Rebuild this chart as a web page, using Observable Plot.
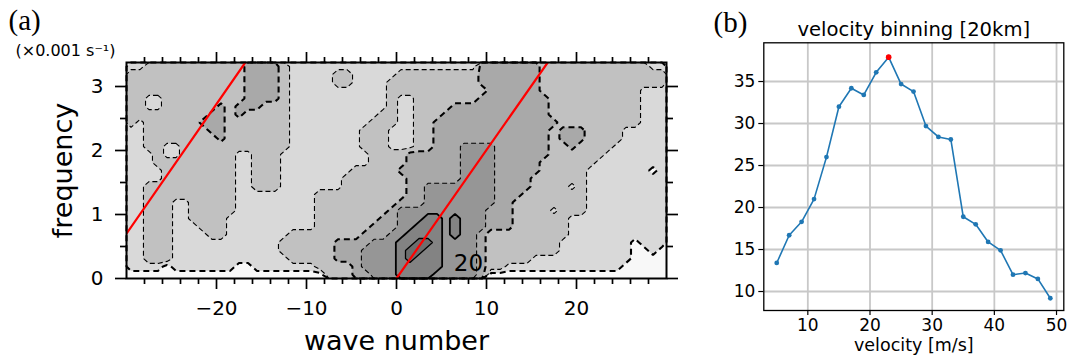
<!DOCTYPE html>
<html>
<head>
<meta charset="utf-8">
<script src="https://cdn.jsdelivr.net/npm/d3@7"></script>
<script src="https://cdn.jsdelivr.net/npm/@observablehq/plot@0.6"></script>
<style>
html, body { margin: 0; padding: 0; background: #fff; }
#wrap { position: relative; width: 1069px; height: 358px; overflow: hidden; background: #fff; }
#pa { position: absolute; left: 0; top: 0; }
#pb { position: absolute; left: 700px; top: 0; }
</style>
</head>
<body>
<div id="wrap"><div id="pa"></div><div id="pb"></div></div>
<script>
// ---------------- Panel (a): wave number / frequency spectrum ----------------
// Shade level read per grid cell (run-length: count + code), top row first.
// Grid: 60 columns (wave number -30..30, step 1), 27 rows (frequency 3.375..0, step 0.125)
const shadeRows = [
  "2L 11M 4D 1M 21L 7D 12M 2L",
  "13M 4D 1M 5L 2M 5L 9M 7D 14M",
  "13M 4D 1M 5L 2M 4L 10M 7D 14M",
  "13M 4D 1M 11L 11M 6D 11M 3L",
  "2M 2L 9M 4D 1M 11L 1M 2L 7M 8D 10M 3L",
  "2M 2L 6M 1D 1M 3D 3M 11L 1M 2L 4M 11D 10M 3L",
  "9M 2D 1M 1D 5M 10L 2M 2L 3M 12D 10M 3L",
  "1M 1L 6M 3D 7M 9L 3M 2L 2M 14D 9M 3L",
  "2L 7M 2D 7M 8L 3M 3L 2M 13D 1M 3D 4M 5L",
  "2L 8M 1D 7M 8L 3M 3L 2M 13D 1M 3D 4M 5L",
  "2L 2M 2L 12M 8L 3M 3L 2M 3D 4E 6D 2M 1D 4M 6L",
  "3L 1M 2L 6M 2L 3M 10L 4M 6D 4E 6D 6M 7L",
  "3L 9M 2L 3M 10L 4M 6D 4E 5D 6M 8L",
  "4L 8M 2L 3M 8L 5M 7D 4E 5D 5M 7L 1W 1L",
  "4L 8M 2L 3M 7L 7M 6D 4E 4D 6M 9L",
  "2L 10M 2L 3M 7L 7M 2D 8E 4D 4M 1L 1M 9L",
  "2L 10M 9L 10M 2D 8E 3D 7M 9L",
  "2L 3M 2L 5M 9L 9M 3D 8E 2D 8M 9L",
  "2L 3M 2L 5M 9L 8M 1D 10E 3D 4M 1L 3M 9L",
  "2L 3M 2L 4M 10L 7M 2D 3E 2F 1E 1F 3E 3D 6M 11L",
  "2L 3M 3L 3M 10L 6M 3D 2E 3F 1E 1F 3E 3D 6M 11L",
  "2L 3M 4L 2M 7L 8M 3D 2E 4F 1E 1F 2E 1D 9M 11L",
  "2L 3M 12L 6M 4D 3E 2F 2G 1F 4E 1D 8M 8L 1W 3L",
  "2L 3M 12L 6M 3D 4E 1F 2G 2F 4E 1D 8M 8L 2W 1L 1W",
  "2L 3M 13L 5M 3D 4E 1F 1G 3F 4E 1D 5M 11L 4W",
  "4L 1W 7L 2W 7L 4M 1D 4E 5F 4E 1D 2M 13L 5W",
  "22W 3M 2D 3E 4F 5E 1D 20W"
];
const shadeCodes  = ["W", "L", "M", "D", "E", "F", "G"];
const shadeValues = [1.5, 3.75, 7, 12, 17, 24, 36];
const gridCols = 60;
const gridRows = 27;

const contourLevels     = [2.5, 5, 10, 15, 20, 30];
const levelFills        = ["#d9d9d9", "#c1c1c1", "#a9a9a9", "#969696", "#838383", "#6d6d6d"];
const levelStrokeWidths = [2.1, 1.1, 2.1, 1.1, 1.8, 1.3];
const levelDashes       = ["6,4", "5,3", "6,4", "5,3", null, null];
const lowestFill = "#f8f8f8";

const waveRange = [-30, 30];
const freqRange = [0, 3.375];

const redLineA_k = [0, 16.8];
const redLineA_f = [0, 3.375];
const redLineB_k = [-30, -16.8];
const redLineB_f = [0.70, 3.375];

const contourLabelK = [8.0];
const contourLabelF = [0.24];
const contourLabelText = ["20"];

const waveMajorTicks = [-20, -10, 0, 10, 20];
const waveMinorTicks = [-28, -26, -24, -22, -18, -16, -14, -12, -8, -6, -4, -2, 2, 4, 6, 8, 12, 14, 16, 18, 22, 24, 26, 28];
const freqMajorTicks = [0, 1, 2, 3];
const freqMinorTicks = [0.5, 1.5, 2.5];

// ---------------- Panel (b): velocity binning ----------------
const velocityBins = [5, 7, 9, 11, 13, 15, 17, 19, 21, 23, 25, 27, 29, 31, 33, 35, 37, 39, 41, 43, 45, 47, 49];
const binCounts    = [13.4, 16.7, 18.3, 21.0, 26.0, 32.0, 34.2, 33.4, 36.1, 37.9, 34.7, 33.8, 29.7, 28.4, 28.1, 18.9, 18.0, 15.9, 14.9, 12.0, 12.2, 11.5, 9.2];
const velocityTicks = [10, 20, 30, 40, 50];
const countTicks    = [10, 15, 20, 25, 30, 35];

// ---------------- build panel (a) ----------------
function decodeRow(s) {
  const out = [];
  for (const tok of s.trim().split(/\s+/)) {
    const n = +tok.slice(0, -1), c = tok.slice(-1);
    const v = shadeValues[shadeCodes.indexOf(c)];
    for (let i = 0; i < n; i++) out.push(v);
  }
  return out;
}
// row 0 of the grid sits at y1 (frequency 0), so bottom row first
const gridValues = shadeRows.slice().reverse().flatMap(decodeRow);

const minus = d => (d < 0 ? "\u2212" + Math.abs(d) : String(d));
const plain = d => String(d);
const blank = () => "";

const gridOpts = {
  width: gridCols, height: gridRows,
  x1: waveRange[0], x2: waveRange[1], y1: freqRange[0], y2: freqRange[1],
  value: Plot.identity
};

const fillMarks = contourLevels.map((t, i) =>
  Plot.contour(gridValues, {...gridOpts, thresholds: [t], fill: levelFills[i], stroke: "none"}));
const lineMarks = contourLevels.map((t, i) => {
  const o = {...gridOpts, thresholds: [t], fill: "none", stroke: "black", strokeWidth: levelStrokeWidths[i]};
  if (levelDashes[i]) o.strokeDasharray = levelDashes[i];
  return Plot.contour(gridValues, o);
});

const redA = redLineA_k.map((k, i) => [k, redLineA_f[i]]);
const redB = redLineB_k.map((k, i) => [k, redLineB_f[i]]);
const labels20 = contourLabelK.map((k, i) => ({k, f: contourLabelF[i], t: contourLabelText[i]}));

const tickStyle = {stroke: "black", strokeWidth: 1.7, label: null};
const txt = {lineAnchor: "middle", fill: "black"};

const plotA = Plot.plot({
  width: 696, height: 358,
  marginLeft: 126, marginRight: 30, marginTop: 62, marginBottom: 80,
  x: {domain: waveRange},
  y: {domain: freqRange},
  style: {fontFamily: "DejaVu Sans", fontSize: "20px", color: "black", background: "transparent", overflow: "visible"},
  marks: [
    Plot.frame({fill: lowestFill, stroke: "none"}),
    ...fillMarks,
    ...lineMarks,
    Plot.line(redA, {stroke: "#ff0000", strokeWidth: 2.2, clip: true}),
    Plot.line(redB, {stroke: "#ff0000", strokeWidth: 2.2, clip: true}),
    Plot.text(labels20, {x: "k", y: "f", text: "t", fontSize: 23, fill: "black"}),
    Plot.frame({stroke: "black", strokeWidth: 2}),
    Plot.axisX(waveMajorTicks, {...tickStyle, anchor: "bottom", tickSize: 11, tickPadding: 11, tickFormat: minus, fontSize: 20}),
    Plot.axisX(waveMinorTicks, {...tickStyle, anchor: "bottom", tickSize: 6, tickFormat: blank}),
    Plot.axisX(waveMajorTicks, {...tickStyle, anchor: "top", tickSize: 11, tickFormat: blank}),
    Plot.axisX(waveMinorTicks, {...tickStyle, anchor: "top", tickSize: 6, tickFormat: blank}),
    Plot.axisY(freqMajorTicks, {...tickStyle, anchor: "left", tickSize: 11, tickPadding: 12, tickFormat: plain, fontSize: 20}),
    Plot.axisY(freqMinorTicks, {...tickStyle, anchor: "left", tickSize: 6, tickFormat: blank}),
    Plot.axisY(freqMajorTicks, {...tickStyle, anchor: "right", tickSize: 11, tickFormat: blank}),
    Plot.axisY(freqMinorTicks, {...tickStyle, anchor: "right", tickSize: 6, tickFormat: blank}),
    Plot.text(["frequency"], {...txt, frameAnchor: "left", textAnchor: "middle", dx: -63, rotate: -90, fontSize: 27}),
    Plot.text(["wave number"], {...txt, frameAnchor: "bottom", textAnchor: "middle", dy: 63, fontSize: 27}),
    Plot.text(["(\u00d70.001 s\u207b\u00b9)"], {...txt, frameAnchor: "top-left", textAnchor: "start", dx: -111, dy: -12, fontSize: 16}),
    Plot.text(["(a)"], {...txt, frameAnchor: "top-left", textAnchor: "start", dx: -118, dy: -41.6, fontSize: 29, fontFamily: "Liberation Serif"})
  ]
});
document.getElementById("pa").appendChild(plotA);

// ---------------- build panel (b) ----------------
const series = velocityBins.map((v, i) => ({v, c: binCounts[i]}));
const peak = [series[d3.maxIndex(series, d => d.c)]];

const plotB = Plot.plot({
  width: 369, height: 358,
  marginLeft: 63.3, marginRight: 5.7, marginTop: 42.3, marginBottom: 48,
  x: {domain: [2.92, 51.17]},
  y: {domain: [7.74, 39.61]},
  style: {fontFamily: "DejaVu Sans", fontSize: "17px", color: "black", background: "transparent", overflow: "visible"},
  marks: [
    Plot.gridX(velocityTicks, {stroke: "#c8c8c8", strokeOpacity: 1, strokeWidth: 1.8}),
    Plot.gridY(countTicks, {stroke: "#c8c8c8", strokeOpacity: 1, strokeWidth: 1.8}),
    Plot.line(series, {x: "v", y: "c", stroke: "#1f77b4", strokeWidth: 1.6}),
    Plot.dot(series, {x: "v", y: "c", r: 2.4, fill: "#1f77b4", stroke: "none"}),
    Plot.dot(peak, {x: "v", y: "c", r: 2.8, fill: "#ff0000", stroke: "none"}),
    Plot.frame({stroke: "black", strokeWidth: 1.3}),
    Plot.axisX(velocityTicks, {anchor: "bottom", tickSize: 5, tickPadding: 3, strokeWidth: 1.2, label: null, tickFormat: plain, fontSize: 17}),
    Plot.axisY(countTicks, {anchor: "left", tickSize: 5, tickPadding: 3.5, strokeWidth: 1.2, label: null, tickFormat: plain, fontSize: 17}),
    Plot.text(["velocity binning [20km]"], {...txt, frameAnchor: "top", textAnchor: "middle", dy: -12.6, fontSize: 19.6}),
    Plot.text(["velocity [m/s]"], {...txt, frameAnchor: "bottom", textAnchor: "middle", dy: 34.4, fontSize: 17.5}),
    Plot.text(["(b)"], {...txt, frameAnchor: "top-left", textAnchor: "start", dx: -50.3, dy: -19.9, fontSize: 29, fontFamily: "Liberation Serif"})
  ]
});
document.getElementById("pb").appendChild(plotB);
</script>
</body>
</html>
